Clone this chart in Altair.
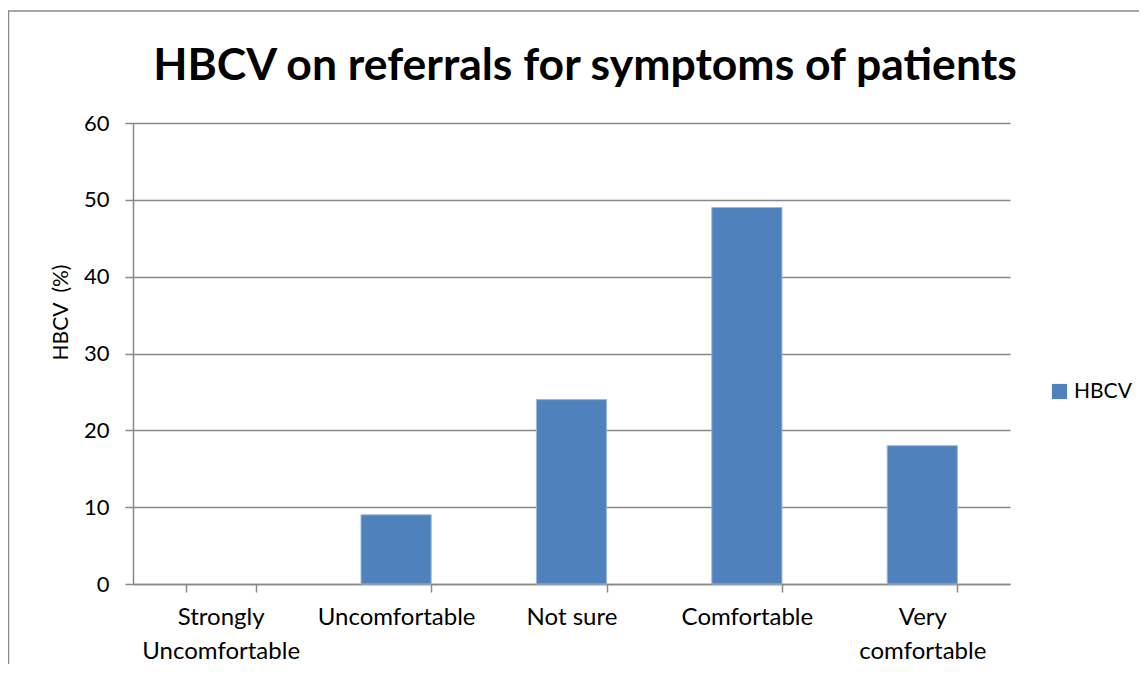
import altair as alt
import pandas as pd

categories = ["Strongly Uncomfortable", "Uncomfortable", "Not sure", "Comfortable", "Very comfortable"]
values = [0, 9, 24, 49, 18]
series = ["HBCV", "HBCV", "HBCV", "HBCV", "HBCV"]
y_ticks = [0, 10, 20, 30, 40, 50, 60]
chart_title = ["HBCV on referrals for symptoms of patients"]

df = pd.DataFrame({"Category": categories, "Value": values, "Series": series})

FONT = "Lato"
GRAY = "#888888"

bars = alt.Chart(df).mark_bar(strokeWidth=1).encode(
    x=alt.X(
        "Category:N",
        sort=categories,
        scale=alt.Scale(paddingInner=0.6, paddingOuter=0.3),
        axis=alt.Axis(
            title=None,
            labelAngle=0,
            labelFontSize=24,
            labelFont=FONT,
            labelColor="#000000",
            labelPadding=13,
            labelLineHeight=34,
            labelExpr="datum.label == 'Not sure' ? datum.label : split(datum.label, ' ')",
            tickBand="extent",
            tickSize=8,
            tickColor=GRAY,
            tickWidth=1.5,
            domainColor=GRAY,
            domainWidth=1.5,
            grid=False,
        ),
    ),
    y=alt.Y(
        "Value:Q",
        scale=alt.Scale(domain=[0, 60], nice=False),
        axis=alt.Axis(
            title="HBCV\u00a0 (%)",
            values=y_ticks,
            labelFontSize=22,
            labelFont=FONT,
            labelColor="#000000",
            labelPadding=16,
            titleFont=FONT,
            titleFontSize=21,
            titleFontWeight="normal",
            titleColor="#000000",
            titlePadding=12,
            titleY=189,
            tickSize=8,
            tickColor=GRAY,
            tickWidth=1.5,
            domainColor=GRAY,
            domainWidth=1.5,
            gridColor=GRAY,
            gridWidth=1.5,
        ),
    ),
    color=alt.Color(
        "Series:N",
        scale=alt.Scale(domain=["HBCV"], range=["#4F81BD"]),
        legend=alt.Legend(
            title=None,
            orient="none",
            legendX=916,
            legendY=258,
            symbolType="square",
            symbolSize=230,
            symbolStrokeWidth=0,
            labelFontSize=21,
            labelFont=FONT,
            labelColor="#000000",
        ),
    ),
    stroke=alt.condition("datum.Value > 0", alt.value("#9bb7dc"), alt.value(None)),
)

frame = alt.Chart(pd.DataFrame({"a": [0]})).mark_rect(
    fill=None, stroke="#8a8a8a", strokeWidth=1.5
).encode(
    x=alt.value(-124.5), x2=alt.value(1200), y=alt.value(-112), y2=alt.value(800)
)

title = alt.Chart(pd.DataFrame({"t": chart_title})).mark_text(
    font=FONT, fontSize=44.5, fontWeight="bold", color="#000000",
    align="center", baseline="alphabetic"
).encode(
    text="t:N", x=alt.value(452), y=alt.value(-43)
)

chart = alt.layer(frame, bars, title).properties(
    width=877,
    height=461,
    autosize=alt.AutoSizeParams(type="none"),
    padding={"left": 125, "top": 115, "right": 129, "bottom": 80},
).configure_view(stroke=None)

chart.save("out.html", embed_options={"renderer": "svg", "actions": False})
